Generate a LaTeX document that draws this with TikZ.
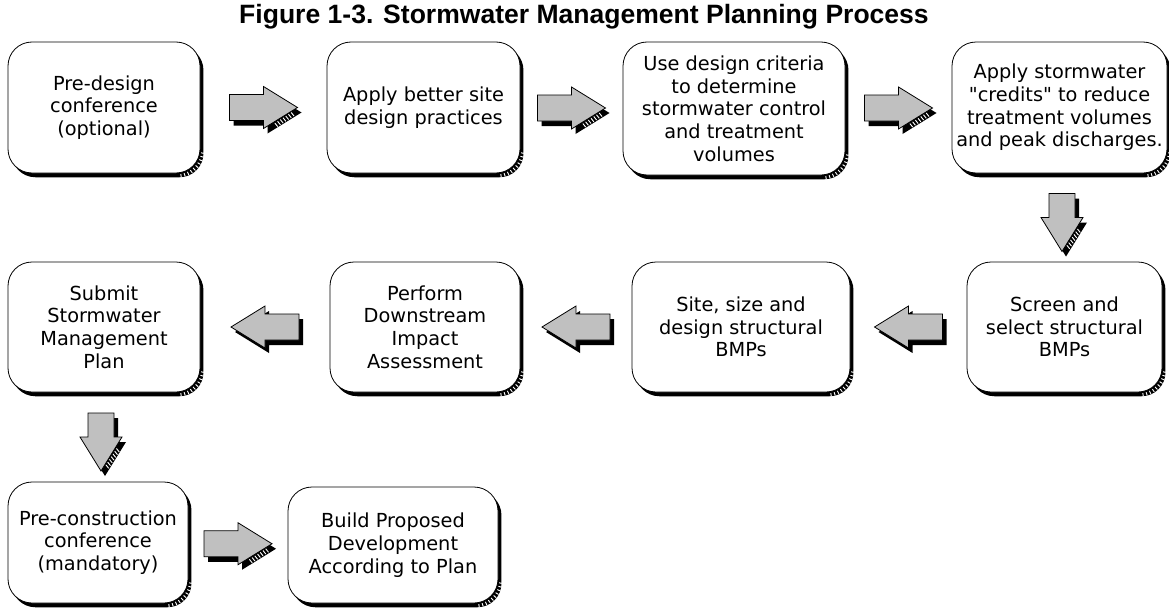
\documentclass[tikz,border=0pt]{standalone}
\usepackage{fontspec}
\setmainfont{DejaVu Sans}[Ligatures=TeXOff]
\newfontfamily\titlefont{Liberation Sans}
\usetikzlibrary{shadows,calc}

\definecolor{arrowgray}{RGB}{192,192,192}

\tikzset{
  stepbox/.style={draw=black, line width=0.6pt, fill=white, rounded corners=18pt,
    inner sep=0pt, align=center, font=\fontsize{14.5pt}{17pt}\selectfont,
    drop shadow={shadow xshift=2.6pt, shadow yshift=-3.2pt, opacity=1, fill=black}},
  hatchline/.style={white, line width=0.7pt},
  arrowface/.style={fill=arrowgray, draw=black, line width=0.6pt},
}

% #1 centre, #2 angle, #3 hatched side (22, -22 or 0), #4 tail length
\newcommand\blockarrow[4]{%
  \begin{scope}[shift={(#1)}]
    \fill[black, shift={(4,5)}, rotate=#2] (-#4,-13) -- (0,-13) -- (0,-21) -- (34,0)
      -- (0,21) -- (0,13) -- (-#4,13) -- cycle;
    \draw[arrowface, rotate=#2] (-#4,-13) -- (0,-13) -- (0,-21) -- (34,0)
      -- (0,21) -- (0,13) -- (-#4,13) -- cycle;
    \ifnum#3=0\else
      \foreach \t in {0.2,0.28,...,0.75} {
        \path[rotate=#2] ($(34,0)!\t!(0,#3)$) coordinate (hp);
        \draw[hatchline] (hp) ++(0.5,0.6) -- ++(2.8,3.5);
      }
    \fi
  \end{scope}}

\newcommand\cornerhatch[1]{%
  \coordinate (hc) at ($(#1.south east)+(-24,-24)$);
  \foreach \a in {8,16,...,84}
    \draw[hatchline] ($(hc)+(\a:25)$) -- ($(hc)+(\a:28.4)$);}

\begin{document}
\begin{tikzpicture}[x=0.75pt,y=-0.75pt]
\useasboundingbox (0,0) rectangle (1169,610);

\node[font=\titlefont\bfseries\fontsize{19.9pt}{22pt}\selectfont, anchor=base] (title)
  at (584,24) {Figure 1-3. Stormwater Management Planning Process};

\node[stepbox, minimum width=144pt, minimum height=98.25pt] (b1) at (104,107.5)
  {Pre-design\\conference\\(optional)};
\node[stepbox, minimum width=144.75pt, minimum height=98.25pt] (b2) at (423.5,107.5)
  {Apply better site\\design practices};
\node[stepbox, minimum width=166.5pt, minimum height=99.75pt] (b3) at (734,108.5)
  {Use design criteria\\to determine\\stormwater control\\and treatment\\volumes};
\node[stepbox, minimum width=161.25pt, minimum height=98.25pt] (b4) at (1059.5,107.5)
  {Apply stormwater\\"credits" to reduce\\treatment volumes\\and peak discharges.};

\node[stepbox, minimum width=144pt, minimum height=97.5pt] (s1) at (104,327)
  {Submit\\Stormwater\\Management\\Plan};
\node[stepbox, minimum width=142.5pt, minimum height=97.5pt] (s2) at (425,327)
  {Perform\\Downstream\\Impact\\Assessment};
\node[stepbox, minimum width=163.5pt, minimum height=97.5pt] (s3) at (741,327)
  {Site, size and\\design structural\\BMPs};
\node[stepbox, minimum width=146.25pt, minimum height=97.5pt] (s4) at (1064.5,327)
  {Screen and\\select structural\\BMPs};

\node[stepbox, minimum width=135pt, minimum height=90.75pt] (c1) at (98,542.5)
  {Pre-construction\\conference\\(mandatory)};
\node[stepbox, minimum width=157.5pt, minimum height=87pt] (c2) at (393,545)
  {Build Proposed\\Development\\According to Plan};

\foreach \n in {b1,b2,b3,b4,s1,s2,s3,s4,c1,c2} {
  \cornerhatch{\n}
}

\path (b1.east) -- (b2.west) coordinate[midway] (a1);
\path (b2.east) -- (b3.west) coordinate[midway] (a2);
\path (b3.east) -- (b4.west) coordinate[midway] (a3);
\path (b4.south) -- (s4.north) coordinate[midway] (a4);
\path (s4.west) -- (s3.east) coordinate[midway] (a5);
\path (s3.west) -- (s2.east) coordinate[midway] (a6);
\path (s2.west) -- (s1.east) coordinate[midway] (a7);
\path (s1.south) -- (c1.north) coordinate[midway] (a8);
\path (c1.east) -- (c2.west) coordinate[midway] (a9);

\blockarrow{a1}{0}{22}{34}
\blockarrow{a2}{0}{22}{34}
\blockarrow{a3}{0}{22}{34}
\blockarrow{a4}{-90}{-22}{24}
\blockarrow{a5}{180}{0}{34}
\blockarrow{a6}{180}{0}{34}
\blockarrow{a7}{180}{0}{34}
\blockarrow{a8}{-90}{-22}{24}
\blockarrow{a9}{0}{22}{34}
\end{tikzpicture}
\end{document}
